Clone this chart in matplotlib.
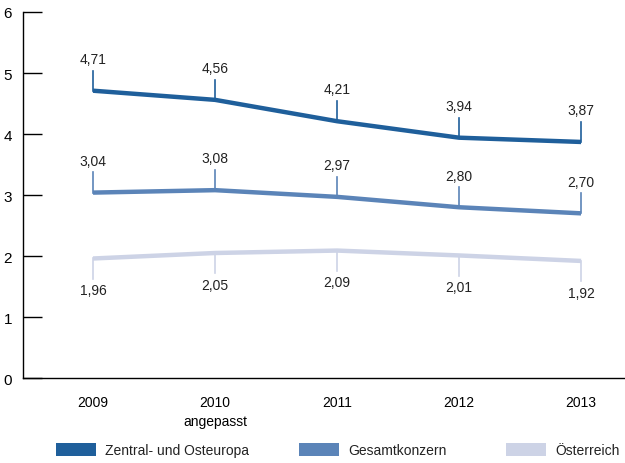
import matplotlib.pyplot as plt
from matplotlib.patches import Rectangle

plt.rcParams['font.family'] = ['Liberation Sans', 'DejaVu Sans']

jahre = ["2009", "2010\nangepasst", "2011", "2012", "2013"]
zentral_osteuropa = [4.71, 4.56, 4.21, 3.94, 3.87]
gesamtkonzern = [3.04, 3.08, 2.97, 2.80, 2.70]
oesterreich = [1.96, 2.05, 2.09, 2.01, 1.92]

namen = ["Zentral- und Osteuropa", "Gesamtkonzern", "Österreich"]
farben = ["#1f5f9b", "#5b84b8", "#cdd3e6"]
# label above (+1) or below (-1) the point
richtung = [1, 1, -1]

fig = plt.figure(figsize=(6.25, 4.64), dpi=100)
ax = fig.add_axes([0.0368, 0.183, 0.9632, 0.789])

x = list(range(len(jahre)))
for werte, farbe, r in zip([zentral_osteuropa, gesamtkonzern, oesterreich], farben, richtung):
    ax.plot(x, werte, color=farbe, lw=3.2, solid_capstyle="butt", zorder=3)
    for xi, v in zip(x, werte):
        ax.plot([xi, xi], [v, v + r * 0.33], color=farbe, lw=1.2, zorder=2)
        ax.text(xi, v + r * 0.52, f"{v:.2f}".replace(".", ","), ha="center",
                va="center", fontsize=10, color="#222222")

ax.set_xlim(-0.574, 4.36)
ax.set_ylim(0, 6)
ax.set_yticks(range(7))
ax.set_xticks(x)
ax.set_xticklabels(jahre, fontsize=10, linespacing=1.5, va="top")
ax.tick_params(axis="x", length=0, pad=12)
ax.tick_params(axis="y", direction="in", length=14, width=1, labelsize=11, pad=8)
for s in ["top", "right"]:
    ax.spines[s].set_visible(False)
ax.spines["left"].set_linewidth(1)
ax.spines["bottom"].set_linewidth(1)

# legend
leg_x = [56, 299, 506]
for lx, name, farbe in zip(leg_x, namen, farben):
    fig.add_artist(Rectangle((lx / 625, 1 - 457 / 464), 40 / 625, 13 / 464,
                             transform=fig.transFigure, color=farbe, lw=0))
    fig.text((lx + 49) / 625, 1 - 451 / 464, name, fontsize=10, va="center",
             ha="left", color="#222222")

fig.savefig("out.png", dpi=100)
